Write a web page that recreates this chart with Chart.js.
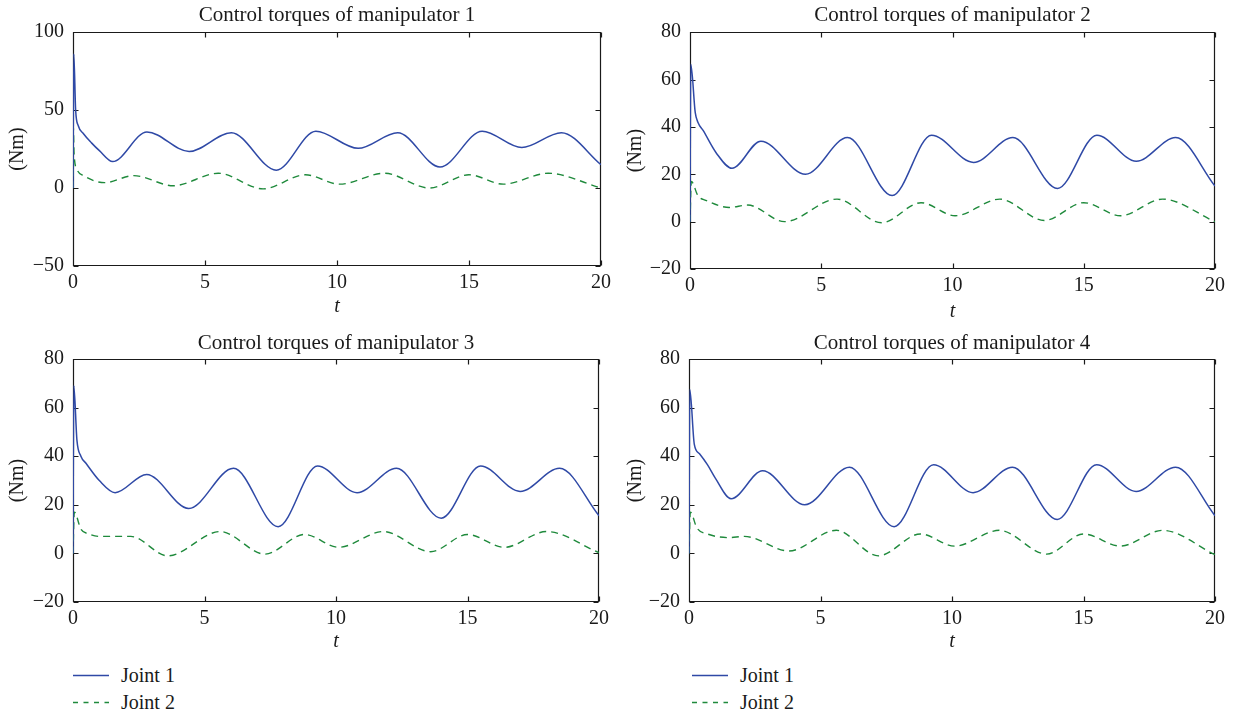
<!DOCTYPE html>
<html>
<head>
<meta charset="utf-8">
<title>Control torques of manipulators</title>
<script src="https://cdn.jsdelivr.net/npm/chart.js@4.4.1/dist/chart.umd.min.js"></script>
<style>
    html, body { margin: 0; padding: 0; background: #fff; }
    #page {
        position: relative;
        width: 1234px;
        height: 713px;
        overflow: hidden;
        font-family: "Liberation Serif", "DejaVu Serif", serif;
        color: #1a1a1a;
    }
    .panel { position: absolute; }
    .legend { position: absolute; font-size: 20px; width: 200px; height: 60px; }
    .legend__item { position: absolute; left: 0; height: 24px; line-height: 24px; white-space: nowrap; }
    .legend__item svg { position: absolute; left: 0; top: 11px; }
    .legend__item span { position: absolute; left: 48px; top: 0; }
</style>
</head>
<body>
<div id="page">
    <div class="panel" style="left:0;top:0;width:617px;height:325px;"><canvas id="c1"></canvas></div>
    <div class="panel" style="left:617px;top:0;width:617px;height:325px;"><canvas id="c2"></canvas></div>
    <div class="panel" style="left:0;top:328px;width:617px;height:332px;"><canvas id="c3"></canvas></div>
    <div class="panel" style="left:617px;top:328px;width:617px;height:332px;"><canvas id="c4"></canvas></div>
    <div class="legend" id="legend3" style="left:73px;top:663px;"></div>
    <div class="legend" id="legend4" style="left:692px;top:663px;"></div>
</div>
<script>
// --- Daten ---
const xTicks = [0, 5, 10, 15, 20];
const yTicksM1 = [-50, 0, 50, 100];
const yTicksOthers = [-20, 0, 20, 40, 60, 80];
const seriesNames = ['Joint 1', 'Joint 2'];
const titles = [
    'Control torques of manipulator 1',
    'Control torques of manipulator 2',
    'Control torques of manipulator 3',
    'Control torques of manipulator 4'
];

// Manipulator 1
const m1Joint1T = [0, 0.03, 0.1, 0.2, 0.39, 0.7, 1.0, 1.5, 2.8, 4.4, 6.0, 7.7, 9.2, 10.8, 12.3, 13.9, 15.5, 17.0, 18.5, 20];
const m1Joint1 = [0, 86, 50, 40, 35, 29, 24, 17, 36, 23.5, 35.5, 11.5, 36.5, 25.5, 35.5, 13.5, 36.5, 26, 35.5, 15];
const m1Joint2T = [0, 0.01, 0.04, 0.15, 0.4, 1.2, 2.3, 3.8, 5.5, 7.2, 8.8, 10.1, 11.8, 13.5, 15.0, 16.3, 18.0, 20];
const m1Joint2 = [0, 40, 22, 12, 8, 3.5, 8, 1.5, 9.5, -0.5, 8.5, 2.5, 9.5, 0, 8.5, 2.5, 9.5, 0];

// Manipulator 2
const m2Joint1T = [0, 0.03, 0.2, 0.3, 0.5, 1.0, 1.6, 2.7, 4.4, 6.0, 7.7, 9.2, 10.8, 12.3, 14.0, 15.5, 17.0, 18.5, 20];
const m2Joint1 = [0, 66.5, 46, 42, 38.5, 29, 22.5, 34, 20, 35.5, 11, 36.5, 25, 35.5, 14, 36.5, 25.5, 35.5, 15];
const m2Joint2T = [0, 0.05, 0.3, 0.6, 1.5, 2.2, 3.6, 5.6, 7.3, 8.8, 10.1, 11.8, 13.5, 15.0, 16.4, 18.0, 20];
const m2Joint2 = [0, 17, 11, 9, 6, 7, 0, 9.5, -0.5, 8, 2.5, 9.5, 0.5, 8, 2.5, 9.5, 0];

// Manipulator 3
const m3Joint1T = [0, 0.03, 0.15, 0.3, 0.5, 1.0, 1.6, 2.8, 4.4, 6.1, 7.8, 9.3, 10.8, 12.3, 14.0, 15.5, 17.0, 18.5, 20];
const m3Joint1 = [0, 69, 46.5, 40, 37, 30, 25, 32.5, 18.5, 35, 11, 36, 25, 35, 14.5, 36, 25.5, 35, 15.5];
const m3Joint2T = [0, 0.05, 0.3, 0.6, 1.0, 2.2, 3.6, 5.6, 7.3, 8.8, 10.1, 11.8, 13.6, 15.0, 16.4, 18.0, 20];
const m3Joint2 = [0, 17, 10, 8, 7, 7, -1, 9, -0.3, 7.8, 2.5, 9, 0.7, 7.8, 2.5, 9, 0.3];

// Manipulator 4
const m4Joint1T = [0, 0.03, 0.2, 0.4, 0.7, 1.0, 1.6, 2.8, 4.4, 6.1, 7.8, 9.3, 10.8, 12.3, 14.0, 15.5, 17.0, 18.5, 20];
const m4Joint1 = [0, 67.5, 45, 41, 36.5, 31, 22.5, 34, 20, 35.5, 11, 36.5, 25, 35.5, 14, 36.5, 25.5, 35.5, 15.5];
const m4Joint2T = [0, 0.05, 0.3, 0.7, 1.5, 2.1, 3.8, 5.6, 7.2, 8.8, 10.1, 11.8, 13.6, 15.0, 16.4, 18.0, 20];
const m4Joint2 = [0, 17, 10.5, 8, 6.5, 7, 1, 9.5, -1, 8, 3, 9.5, -0.3, 8, 3, 9.5, -0.5];

// --- Stil ---
const FONT = "'Liberation Serif', 'DejaVu Serif', serif";
const INK = '#1a1a1a';
const BLUE = '#2f49a6';
const GREEN = '#1f8a3c';
const DASH = [7, 5];

Chart.defaults.font.family = FONT;
Chart.defaults.color = INK;

const toPoints = (xs, ys) => xs.map((x, i) => ({ x, y: ys[i] }));
const minus = (v) => String(v).replace('-', '\u2212');
const serif = (size, extra = {}) => ({ family: FONT, size, weight: 'normal', lineHeight: 1.2, ...extra });

// Rahmen und nach innen zeigende Ticks auf allen vier Seiten (MATLAB-Stil)
const framePlugin = {
    id: 'frame',
    beforeDatasetsDraw(chart) {
        const { ctx, chartArea: a, scales } = chart;
        const l = Math.round(a.left) + 0.5, r = Math.round(a.right) - 0.5;
        const t = Math.round(a.top) + 0.5, b = Math.round(a.bottom) - 0.5;
        const len = 5;
        ctx.save();
        ctx.strokeStyle = INK;
        ctx.lineWidth = 1.2;
        ctx.beginPath();
        ctx.rect(l, t, r - l, b - t);
        scales.x.ticks.forEach(tick => {
            const px = Math.round(scales.x.getPixelForValue(tick.value)) + 0.5;
            ctx.moveTo(px, b); ctx.lineTo(px, b - len);
            ctx.moveTo(px, t); ctx.lineTo(px, t + len);
        });
        scales.y.ticks.forEach(tick => {
            const py = Math.round(scales.y.getPixelForValue(tick.value)) + 0.5;
            ctx.moveTo(l, py); ctx.lineTo(l + len, py);
            ctx.moveTo(r, py); ctx.lineTo(r - len, py);
        });
        ctx.stroke();
        ctx.restore();
    }
};

function createPanel(canvasId, cfg) {
    const canvas = document.getElementById(canvasId);
    const yTicks = cfg.yTicks;
    return new Chart(canvas.getContext('2d'), {
        type: 'line',
        data: {
            datasets: [
                {
                    label: seriesNames[0],
                    data: toPoints(cfg.j1T, cfg.j1),
                    borderColor: BLUE,
                    borderWidth: 1.5,
                    pointRadius: 0,
                    cubicInterpolationMode: 'monotone',
                    fill: false
                },
                {
                    label: seriesNames[1],
                    data: toPoints(cfg.j2T, cfg.j2),
                    borderColor: GREEN,
                    borderWidth: 1.4,
                    borderDash: DASH,
                    pointRadius: 0,
                    cubicInterpolationMode: 'monotone',
                    fill: false
                }
            ]
        },
        options: {
            responsive: true,
            maintainAspectRatio: false,
            animation: false,
            devicePixelRatio: 1,
            layout: { padding: { left: 0, right: cfg.padRight, top: 0, bottom: 0 } },
            plugins: {
                legend: { display: false },
                tooltip: { enabled: false },
                title: {
                    display: true,
                    text: cfg.title,
                    fullSize: false,
                    color: INK,
                    font: serif(21),
                    padding: cfg.titlePad
                }
            },
            scales: {
                x: {
                    type: 'linear',
                    min: xTicks[0],
                    max: xTicks[xTicks.length - 1],
                    grid: { display: false, drawTicks: false },
                    border: { display: false },
                    afterBuildTicks: (scale) => { scale.ticks = xTicks.map(v => ({ value: v })); },
                    afterFit: (scale) => { scale.height = cfg.xHeight; },
                    ticks: {
                        autoSkip: false,
                        maxRotation: 0,
                        padding: 5,
                        color: INK,
                        font: serif(20),
                        callback: (v) => minus(v)
                    },
                    title: {
                        display: true,
                        text: 't',
                        color: INK,
                        font: serif(20, { style: 'italic' }),
                        padding: { top: 0, bottom: cfg.xTitlePad }
                    }
                },
                y: {
                    min: yTicks[0],
                    max: yTicks[yTicks.length - 1],
                    grid: { display: false, drawTicks: false },
                    border: { display: false },
                    afterBuildTicks: (scale) => { scale.ticks = yTicks.map(v => ({ value: v })); },
                    afterFit: (scale) => { scale.width = cfg.yWidth; },
                    ticks: {
                        autoSkip: false,
                        padding: 9,
                        color: INK,
                        font: serif(20),
                        callback: (v) => minus(v)
                    },
                    title: {
                        display: true,
                        text: '(Nm)',
                        color: INK,
                        font: serif(20),
                        padding: { top: cfg.yTitlePad, bottom: 0 }
                    }
                }
            }
        },
        plugins: [framePlugin]
    });
}

function renderLegend(containerId) {
    const el = document.getElementById(containerId);
    const styles = [
        { color: BLUE, dash: '' },
        { color: GREEN, dash: '5 5.5' }
    ];
    el.innerHTML = seriesNames.map((name, i) => `
        <div class="legend__item" style="top:${i * 27}px;">
            <svg width="36" height="3"><line x1="0" y1="1.5" x2="36" y2="1.5" stroke="${styles[i].color}"
                stroke-width="1.5" ${styles[i].dash ? `stroke-dasharray="${styles[i].dash}"` : ''}/></svg>
            <span>${name}</span>
        </div>
    `).join('');
}

createPanel('c1', {
    title: titles[0], yTicks: yTicksM1,
    j1T: m1Joint1T, j1: m1Joint1, j2T: m1Joint2T, j2: m1Joint2,
    padRight: 16, yWidth: 73, xHeight: 59, xTitlePad: 6, yTitlePad: 6,
    titlePad: { top: 3, bottom: 4 }
});
createPanel('c2', {
    title: titles[1], yTicks: yTicksOthers,
    j1T: m2Joint1T, j1: m2Joint1, j2T: m2Joint2T, j2: m2Joint2,
    padRight: 19, yWidth: 73, xHeight: 56, xTitlePad: 1, yTitlePad: 7,
    titlePad: { top: 3, bottom: 4 }
});
createPanel('c3', {
    title: titles[2], yTicks: yTicksOthers,
    j1T: m3Joint1T, j1: m3Joint1, j2T: m3Joint2T, j2: m3Joint2,
    padRight: 18, yWidth: 73, xHeight: 58, xTitlePad: 6, yTitlePad: 6,
    titlePad: { top: 2.4, bottom: 3.4 }
});
createPanel('c4', {
    title: titles[3], yTicks: yTicksOthers,
    j1T: m4Joint1T, j1: m4Joint1, j2T: m4Joint2T, j2: m4Joint2,
    padRight: 19, yWidth: 72, xHeight: 58, xTitlePad: 6, yTitlePad: 7,
    titlePad: { top: 2.4, bottom: 3.4 }
});
renderLegend('legend3');
renderLegend('legend4');
</script>
</body>
</html>
